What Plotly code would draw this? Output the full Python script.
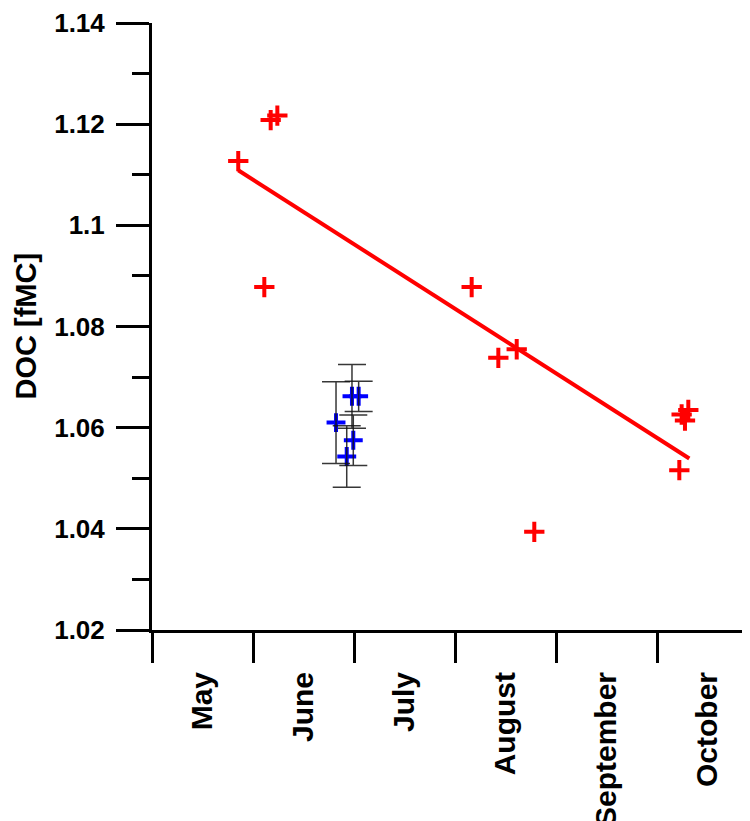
import plotly.graph_objects as go

# x = months since 1 May (0 = May 1, 1 = June 1, ...)
red_x = [0.854, 1.175, 1.241, 1.112, 3.165, 3.429, 3.611, 3.785, 5.221, 5.310, 5.244, 5.277]
red_y = [1.1127, 1.1208, 1.1217, 1.0878, 1.0878, 1.0738, 1.0755, 1.0394, 1.0516, 1.0635, 1.0626, 1.0614]

trend_x = [0.854, 5.32]
trend_y = [1.1109, 1.0539]

blue_x = [1.822, 1.993, 1.928, 1.980, 2.046]
blue_y = [1.0610, 1.0575, 1.0543, 1.0662, 1.0662]
blue_err = [0.0081, 0.0050, 0.0061, 0.0063, 0.0030]

month_pos = [0.5, 1.5, 2.5, 3.5, 4.5, 5.5]
month_labels = ["May", "June", "July", "August", "September", "October"]
month_bounds = [0, 1, 2, 3, 4, 5]

y_tick_vals = [1.02, 1.04, 1.06, 1.08, 1.10, 1.12, 1.14]
y_tick_labels = ["1.02", "1.04", "1.06", "1.08", "1.1", "1.12", "1.14"]

FONT = "Arial, Liberation Sans, Helvetica, sans-serif"

fig = go.Figure()

fig.add_trace(go.Scatter(
    x=trend_x, y=trend_y, mode="lines",
    line=dict(color="#ff0000", width=4), showlegend=False, hoverinfo="skip"))

fig.add_trace(go.Scatter(
    x=red_x, y=red_y, mode="markers",
    marker=dict(symbol="cross-thin", size=14.5, color="#ff0000",
                line=dict(color="#ff0000", width=4)),
    showlegend=False))

fig.add_trace(go.Scatter(
    x=blue_x, y=blue_y, mode="markers",
    marker=dict(symbol="cross-thin", size=13.5, color="#0000ff",
                line=dict(color="#0000ff", width=4)),
    showlegend=False))

# error bars drawn on top of the blue crosses
fig.add_trace(go.Scatter(
    x=blue_x, y=blue_y, mode="markers",
    marker=dict(size=1, opacity=0),
    error_y=dict(type="data", array=blue_err, visible=True,
                 color="rgba(20,20,20,0.85)", thickness=1.5, width=14),
    showlegend=False, hoverinfo="skip"))

fig.update_layout(
    width=750, height=821,
    margin=dict(l=144, r=0, t=15, b=199, autoexpand=False),
    paper_bgcolor="white", plot_bgcolor="white",
    font=dict(family=FONT, color="black"),
    xaxis=dict(
        range=[0, 6.0], showgrid=False, zeroline=False, automargin=False,
        showline=True, linecolor="black", linewidth=3,
        tickmode="array", tickvals=month_pos, ticktext=month_labels,
        ticks="", tickangle=-90, ticklabelstandoff=27,
        tickfont=dict(family=FONT, size=30, weight="bold"),
        minor=dict(tickmode="array", tickvals=month_bounds, ticks="outside",
                   ticklen=30, tickwidth=3, tickcolor="black"),
    ),
    yaxis=dict(
        range=[1.02, 1.14], showgrid=False, zeroline=False, automargin=False,
        showline=True, linecolor="black", linewidth=3,
        tickmode="array", tickvals=y_tick_vals, ticktext=y_tick_labels,
        ticks="outside", ticklen=33, tickwidth=3, tickcolor="black",
        ticklabelstandoff=6,
        tickfont=dict(family=FONT, size=26, weight="bold"),
        minor=dict(tickmode="linear", tick0=1.03, dtick=0.02, ticks="outside",
                   ticklen=17, tickwidth=3, tickcolor="black"),
    ),
    annotations=[dict(
        text="DOC [fMC]", textangle=-90, showarrow=False,
        xref="paper", yref="paper", x=0, y=0.5,
        xanchor="center", yanchor="middle", xshift=-127,
        font=dict(family=FONT, size=29, weight="bold", color="black"))],
)

fig.write_html("out.html")
